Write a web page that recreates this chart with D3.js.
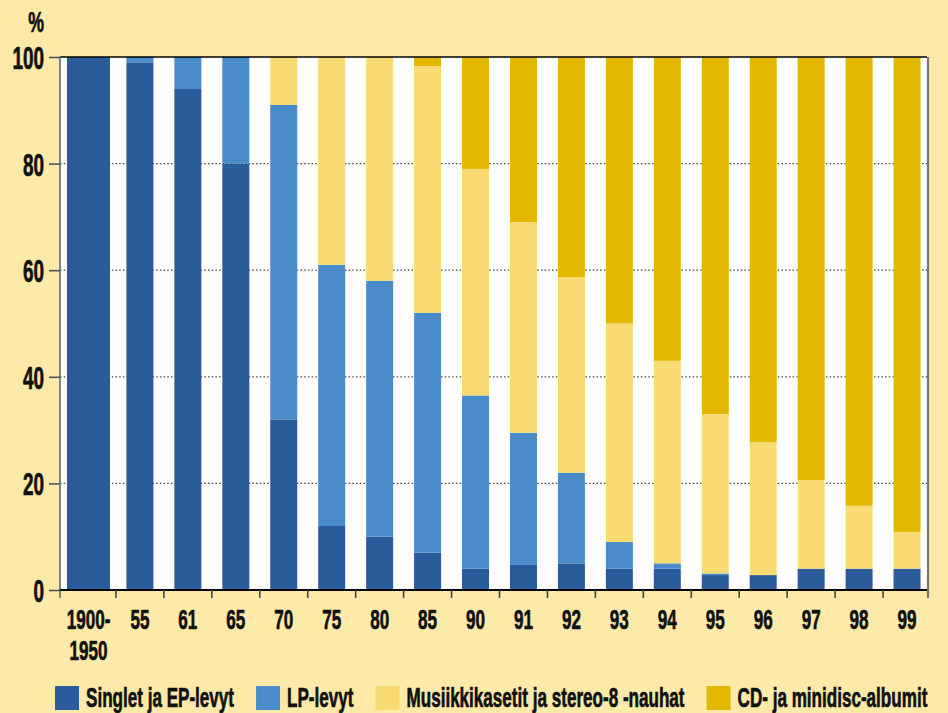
<!DOCTYPE html>
<html>
<head>
<meta charset="utf-8">
<script src="https://cdn.jsdelivr.net/npm/d3@7"></script>
<style>
  html, body { margin: 0; padding: 0; background: #fde9a8; }
  svg text { font-family: "Liberation Sans", Arial, sans-serif; font-weight: bold; fill: #111; stroke: #111; stroke-width: 0.7; }
</style>
</head>
<body>
<svg id="chart"></svg>
<script>
const categories = ["1900-1950", "55", "61", "65", "70", "75", "80", "85", "90", "91", "92", "93", "94", "95", "96", "97", "98", "99"];
const singles  = [100, 99, 94, 80, 32, 12, 10, 7, 4, 4.7, 5, 4, 4, 2.8, 2.8, 4, 4, 4];
const lpRecords = [0, 1, 6, 20, 59, 49, 48, 45, 32.5, 24.8, 17, 5, 1, 0.3, 0, 0, 0, 0];
const cassettes = [0, 0, 0, 0, 9, 39, 42, 46.3, 42.5, 39.5, 36.7, 41, 38, 29.9, 24.9, 16.6, 11.8, 6.9];
const cds       = [0, 0, 0, 0, 0, 0, 0, 1.7, 21, 31, 41.3, 50, 57, 67, 72.3, 79.4, 84.2, 89.1];
const seriesNames = ["Singlet ja EP-levyt", "LP-levyt", "Musiikkikasetit ja stereo-8 -nauhat", "CD- ja minidisc-albumit"];
const yTicks = [0, 20, 40, 60, 80, 100];

const colors = ["#2a5b9b", "#4a8bc9", "#f9db74", "#e2b900"];

const W = 948, H = 713;
const plot = {left: 60, right: 927, top: 57, bottom: 590};
const squeeze = 0.61;   // condensed look for the lettering

const svg = d3.select("#chart").attr("width", W).attr("height", H);
svg.append("rect").attr("width", W).attr("height", H).attr("fill", "#fde9a8");

const x = d3.scaleBand().domain(categories).range([68, 931]);
const y = d3.scaleLinear().domain([0, 100]).range([plot.bottom, plot.top]);

const table = categories.map((c, i) => ({
  cat: c, s0: singles[i], s1: lpRecords[i], s2: cassettes[i], s3: cds[i]
}));
const stacked = d3.stack().keys(["s0", "s1", "s2", "s3"])(table);

// condensed text helper
function label(parent, tx, ty, txt, size, anchor) {
  const g = parent.append("g").attr("transform", `translate(${tx},${ty}) scale(${squeeze},1)`);
  return g.append("text").attr("font-size", size).attr("text-anchor", anchor || "start").text(txt);
}

// plot background
svg.append("rect")
   .attr("x", plot.left).attr("y", plot.top)
   .attr("width", plot.right - plot.left).attr("height", plot.bottom - plot.top)
   .attr("fill", "#fff");

// dotted grid
svg.append("g").selectAll("line")
   .data(yTicks.filter(t => t > 0 && t < 100))
   .enter().append("line")
   .attr("x1", plot.left).attr("x2", plot.right)
   .attr("y1", d => y(d)).attr("y2", d => y(d))
   .attr("stroke", "#444").attr("stroke-width", 1.2)
   .attr("stroke-dasharray", "1.5,2.2");

const barX = (c, i) => i === 0 ? x(c) - 1 : x(c) + x.bandwidth() / 2 - 13.5;
const barW = i => i === 0 ? 43 : 27;

svg.append("g").selectAll("g")
   .data(stacked)
   .enter().append("g")
   .attr("fill", (d, k) => colors[k])
   .selectAll("rect")
   .data(d => d)
   .enter().append("rect")
   .attr("x", (d, i) => barX(d.data.cat, i))
   .attr("width", (d, i) => barW(i))
   .attr("y", d => y(d[1]))
   .attr("height", d => y(d[0]) - y(d[1]));

// frame
svg.append("line").attr("x1", plot.left).attr("x2", plot.right)
   .attr("y1", plot.top).attr("y2", plot.top).attr("stroke", "#000").attr("stroke-width", 1.5);
svg.append("line").attr("x1", plot.right + 1).attr("x2", plot.right + 1)
   .attr("y1", plot.top).attr("y2", plot.bottom + 8).attr("stroke", "#777").attr("stroke-width", 2.2);
svg.append("line").attr("x1", plot.left).attr("x2", plot.left)
   .attr("y1", plot.top).attr("y2", plot.bottom + 8).attr("stroke", "#666").attr("stroke-width", 1.6);
svg.append("line").attr("x1", plot.left).attr("x2", plot.right)
   .attr("y1", plot.bottom).attr("y2", plot.bottom).attr("stroke", "#000").attr("stroke-width", 1.8);

// y axis ticks + labels
const yAxis = d3.axisLeft(y).tickValues(yTicks).tickSize(11).tickFormat("");
const gy = svg.append("g").attr("transform", `translate(${plot.left},0)`).call(yAxis);
gy.select(".domain").remove();
gy.selectAll(".tick line").attr("stroke", "#555").attr("stroke-width", 1.6);
yTicks.forEach(t => label(svg, 44, y(t) + 12, String(t), 31, "end"));

label(svg, 44, 32, "%", 29, "end");

// x ticks at band boundaries
svg.append("g").selectAll("line")
   .data(categories.slice(1))
   .enter().append("line")
   .attr("x1", d => x(d)).attr("x2", d => x(d))
   .attr("y1", plot.bottom).attr("y2", plot.bottom + 8)
   .attr("stroke", "#444").attr("stroke-width", 1.6);

// x labels
categories.forEach((c, i) => {
  const cx = barX(c, i) + barW(i) / 2;
  const parts = c.includes("-") ? [c.split("-")[0] + "-", c.split("-")[1]] : [c];
  parts.forEach((p, j) => label(svg, cx, 629 + j * 31, p, 28, "middle"));
});

// legend
let lx = 55;
seriesNames.forEach((name, k) => {
  svg.append("rect").attr("x", lx).attr("y", 686).attr("width", 24).attr("height", 24)
     .attr("fill", colors[k]);
  const t = label(svg, lx + 31, 707, name, 28);
  lx += 31 + t.node().getComputedTextLength() * squeeze + 22;
});
</script>
</body>
</html>
